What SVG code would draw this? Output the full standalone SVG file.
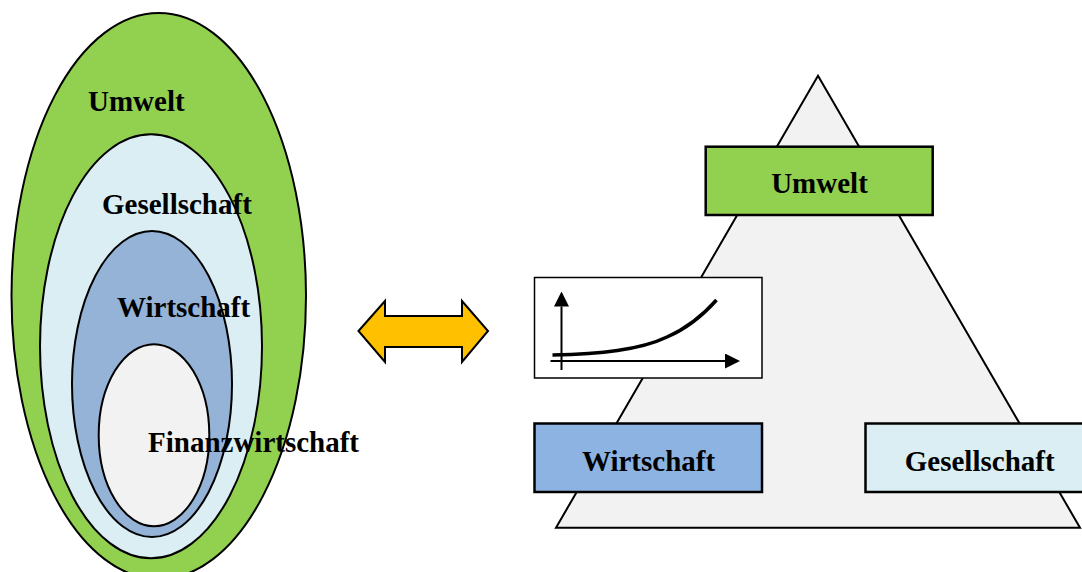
<svg xmlns="http://www.w3.org/2000/svg" width="1082" height="572" viewBox="0 0 1082 572">
  <style>
    .lbl { font-family: "Liberation Serif", "Times New Roman", serif; font-weight: bold; font-size: 29px; fill: #000; }
    .c { text-anchor: middle; }
    .ell { stroke: #000; stroke-width: 2; }
    .box { stroke: #000; stroke-width: 2.5; }
  </style>
  <defs>
    <marker id="ah" viewBox="0 0 15 15" refX="0" refY="7.5" markerWidth="15" markerHeight="15" markerUnits="userSpaceOnUse" orient="auto">
      <path d="M0,0 L15,7.5 L0,15 Z" fill="#000"/>
    </marker>
  </defs>
  <rect width="1082" height="572" fill="#fff"/>

  <!-- Left: nested ellipses -->
  <g id="ell-umwelt">
    <ellipse class="ell" cx="158.75" cy="296" rx="147.25" ry="283" fill="#92D050"/>
    <text class="lbl" x="88" y="111">Umwelt</text>
  </g>
  <g id="ell-gesellschaft">
    <ellipse class="ell" cx="151" cy="346.3" rx="111" ry="212" fill="#DAEEF3"/>
    <text class="lbl" x="102" y="214">Gesellschaft</text>
  </g>
  <g id="ell-wirtschaft">
    <ellipse class="ell" cx="152" cy="384" rx="80" ry="153" fill="#95B3D7"/>
    <text class="lbl" x="117" y="317">Wirtschaft</text>
  </g>
  <g id="ell-finanz">
    <ellipse class="ell" cx="154" cy="435.2" rx="55.3" ry="91" fill="#F2F2F2"/>
    <text class="lbl" x="148" y="452">Finanzwirtschaft</text>
  </g>

  <!-- Connectors -->
  <g id="connectors">
    <polygon points="358.5,331 385,301 385,316 462,316 462,301 488,331 462,362 462,347 385,347 385,362" fill="#FFC000" stroke="#000" stroke-width="2" stroke-linejoin="miter"/>
  </g>

  <!-- Right: triangle -->
  <g id="triangle">
    <polygon points="818,75.7 556,527.7 1080,527.7" fill="#F2F2F2" stroke="#000" stroke-width="2"/>
  </g>
  <g id="box-umwelt">
    <rect class="box" x="705.7" y="146.7" width="227" height="68.3" fill="#92D050"/>
    <text class="lbl c" x="819.5" y="193.3">Umwelt</text>
  </g>
  <g id="chart">
    <rect x="534.5" y="277.5" width="227.5" height="100.5" fill="#fff" stroke="#000" stroke-width="1.5"/>
    <line x1="561.5" y1="370" x2="561.5" y2="306.5" stroke="#000" stroke-width="2" marker-end="url(#ah)"/>
    <line x1="550.5" y1="361" x2="725" y2="361" stroke="#000" stroke-width="2" marker-end="url(#ah)"/>
    <path d="M552.5,355 C600,354 640,350 667,337 C690,327 705,313 716.5,300" fill="none" stroke="#000" stroke-width="3.5"/>
  </g>
  <g id="box-wirtschaft">
    <rect class="box" x="534.5" y="423.5" width="227.5" height="68.5" fill="#8DB3E2"/>
    <text class="lbl c" x="648.5" y="470.5">Wirtschaft</text>
  </g>
  <g id="box-gesellschaft">
    <rect class="box" x="865.5" y="423.5" width="228" height="68.5" fill="#DAEEF3"/>
    <text class="lbl c" x="979.7" y="470.5">Gesellschaft</text>
  </g>
</svg>
